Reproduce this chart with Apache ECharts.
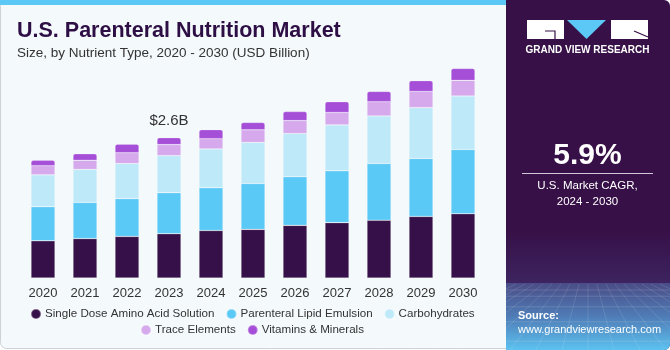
<!DOCTYPE html>
<html>
<head>
<meta charset="utf-8">
<script src="https://cdn.jsdelivr.net/npm/echarts@6/dist/echarts.min.js"></script>
<style>
  html, body { margin: 0; padding: 0; background: #ffffff; }
  #chart { width: 670px; height: 350px; }
</style>
</head>
<body>
<div id="chart"></div>
<script>
// values in USD Billion
var years = ['2020', '2021', '2022', '2023', '2024', '2025', '2026', '2027', '2028', '2029', '2030'];
var aminoAcid = [0.69, 0.73, 0.77, 0.82, 0.88, 0.90, 0.975, 1.025, 1.07, 1.14, 1.19];
var lipidEmulsion = [0.63, 0.67, 0.70, 0.76, 0.79, 0.85, 0.90, 0.96, 1.05, 1.075, 1.19];
var carbohydrates = [0.59, 0.61, 0.65, 0.686, 0.72, 0.76, 0.80, 0.85, 0.88, 0.94, 0.99];
var traceElements = [0.17, 0.17, 0.20, 0.204, 0.19, 0.235, 0.24, 0.23, 0.265, 0.30, 0.29];
var vitamins = [0.10, 0.12, 0.16, 0.13, 0.167, 0.135, 0.167, 0.20, 0.19, 0.20, 0.22];
var seriesNames = ['Single Dose Amino Acid Solution', 'Parenteral Lipid Emulsion', 'Carbohydrates', 'Trace Elements', 'Vitamins & Minerals'];
var colors = ['#361048', '#5bc9f6', '#bde9f9', '#d5a9ec', '#a54fd8'];

var font = 'Liberation Sans, Arial, sans-serif';
var chart = echarts.init(document.getElementById('chart'));

function makeSeries(name, data, isTop) {
  return {
    name: name,
    type: 'bar',
    stack: 'total',
    barWidth: 24,
    data: data,
    itemStyle: {
      borderColor: 'rgba(255,255,255,0.35)',
      borderWidth: 0.6,
      borderRadius: isTop ? [2, 2, 0, 0] : 0
    },
    label: {
      show: isTop,
      position: 'top',
      distance: 9,
      color: '#333333',
      fontSize: 15,
      fontFamily: font,
      formatter: function (p) {
        return p.dataIndex === 3 ? '$2.6B' : '';
      }
    },
    emphasis: { disabled: true }
  };
}

// faint grid texture at the bottom of the side panel
var texture = [];
for (var i = 0; i < 6; i++) {
  var yy = 290 + i * i * 2.2 + i * 4;
  texture.push({ type: 'line', shape: { x1: 506, y1: yy, x2: 670, y2: yy },
    style: { stroke: 'rgba(255,255,255,0.18)', lineWidth: 0.8 }, z: -7 });
}
for (var j = -8; j <= 8; j++) {
  texture.push({ type: 'line', shape: { x1: 588 + j * 9, y1: 284, x2: 588 + j * 26, y2: 350 },
    style: { stroke: 'rgba(255,255,255,0.15)', lineWidth: 0.8 }, z: -7 });
}

var option = {
  backgroundColor: '#ffffff',
  animation: false,
  color: colors,
  graphic: [
    // left panel
    { type: 'rect', shape: { x: 0.5, y: 0.5, width: 540, height: 348, r: 6 },
      style: { fill: '#f4f9fc', stroke: '#cfd3d6', lineWidth: 1 }, z: -10 },
    { type: 'rect', shape: { x: 0, y: 0, width: 510, height: 5 },
      style: { fill: '#5bc8f5' }, z: -9 },
    // right panel
    { type: 'rect', shape: { x: 506, y: 0, width: 164, height: 350, r: [0, 6, 6, 0] },
      style: {
        fill: new echarts.graphic.LinearGradient(0, 0, 0, 1, [
          { offset: 0, color: '#371047' },
          { offset: 0.66, color: '#371047' },
          { offset: 0.81, color: '#3d2460' },
          { offset: 1, color: '#3d2460' }
        ])
      }, z: -8 },
    { type: 'rect', shape: { x: 506, y: 283, width: 164, height: 67, r: [0, 0, 6, 0] },
      style: {
        fill: new echarts.graphic.LinearGradient(0, 0, 0, 1, [
          { offset: 0, color: '#4a4c86' },
          { offset: 0.5, color: '#4f7cb6' },
          { offset: 1, color: '#5cc2f0' }
        ])
      }, z: -8 }
  ].concat(texture).concat([
    // logo
    { type: 'rect', shape: { x: 527, y: 20, width: 37, height: 19 }, style: { fill: '#ffffff' }, z: 5 },
    { type: 'polyline', shape: { points: [[545, 31], [555, 31], [555, 39]] },
      style: { stroke: '#371047', lineWidth: 1.2, fill: null }, z: 6 },
    { type: 'polygon', shape: { points: [[567, 20], [606, 20], [586.5, 39]] }, style: { fill: '#5bc8f5' }, z: 5 },
    { type: 'rect', shape: { x: 611, y: 20, width: 37, height: 19 }, style: { fill: '#ffffff' }, z: 5 },
    { type: 'line', shape: { x1: 634, y1: 31, x2: 648, y2: 37 },
      style: { stroke: '#371047', lineWidth: 1.2 }, z: 6 },
    { type: 'text', x: 587.5, y: 50, style: { text: 'GRAND VIEW RESEARCH', fill: '#ffffff',
      font: 'bold 10px ' + font, align: 'center', verticalAlign: 'middle' }, z: 5 },
    // CAGR box
    { type: 'text', x: 587.5, y: 156, style: { text: '5.9%', fill: '#ffffff',
      font: 'bold 30px ' + font, align: 'center', verticalAlign: 'middle' }, z: 5 },
    { type: 'line', shape: { x1: 522, y1: 173.5, x2: 653, y2: 173.5 },
      style: { stroke: '#cfc6d6', lineWidth: 1 }, z: 5 },
    { type: 'text', x: 587.5, y: 186, style: { text: 'U.S. Market CAGR,', fill: '#ffffff',
      font: '11.5px ' + font, align: 'center', verticalAlign: 'middle' }, z: 5 },
    { type: 'text', x: 587.5, y: 202, style: { text: '2024 - 2030', fill: '#ffffff',
      font: '11.5px ' + font, align: 'center', verticalAlign: 'middle' }, z: 5 },
    // source
    { type: 'text', x: 518, y: 316, style: { text: 'Source:', fill: '#ffffff',
      font: 'bold 11px ' + font, verticalAlign: 'middle' }, z: 5 },
    { type: 'text', x: 518, y: 330, style: { text: 'www.grandviewresearch.com', fill: '#ffffff',
      font: '11px ' + font, verticalAlign: 'middle' }, z: 5 }
  ]),
  title: {
    text: 'U.S. Parenteral Nutrition Market',
    subtext: 'Size, by Nutrient Type, 2020 - 2030 (USD Billion)',
    left: 12,
    top: 15,
    itemGap: 4,
    textStyle: { color: '#2e0f45', fontSize: 21.5, fontWeight: 'bold', fontFamily: font },
    subtextStyle: { color: '#333333', fontSize: 13.5, fontFamily: font }
  },
  legend: [{
    data: seriesNames.slice(0, 3),
    left: 25,
    top: 303,
    icon: 'circle',
    itemWidth: 10,
    itemHeight: 10,
    itemGap: 11,
    textStyle: { color: '#333333', fontSize: 11.6, fontFamily: font, padding: [0, 0, 0, -1] }
  }, {
    data: seriesNames.slice(3),
    left: 135,
    top: 319,
    icon: 'circle',
    itemWidth: 10,
    itemHeight: 10,
    itemGap: 11,
    textStyle: { color: '#333333', fontSize: 11.6, fontFamily: font, padding: [0, 0, 0, -1] }
  }],
  grid: { left: 22, right: 186, top: 62, bottom: 72 },
  xAxis: {
    type: 'category',
    data: years,
    axisLine: { show: false },
    axisTick: { show: false },
    axisLabel: { color: '#333333', fontSize: 13, fontFamily: font, margin: 9 }
  },
  yAxis: {
    type: 'value',
    min: 0,
    max: 4,
    show: false
  },
  series: [
    makeSeries(seriesNames[0], aminoAcid, false),
    makeSeries(seriesNames[1], lipidEmulsion, false),
    makeSeries(seriesNames[2], carbohydrates, false),
    makeSeries(seriesNames[3], traceElements, false),
    makeSeries(seriesNames[4], vitamins, true)
  ]
};

chart.setOption(option);
</script>
</body>
</html>
